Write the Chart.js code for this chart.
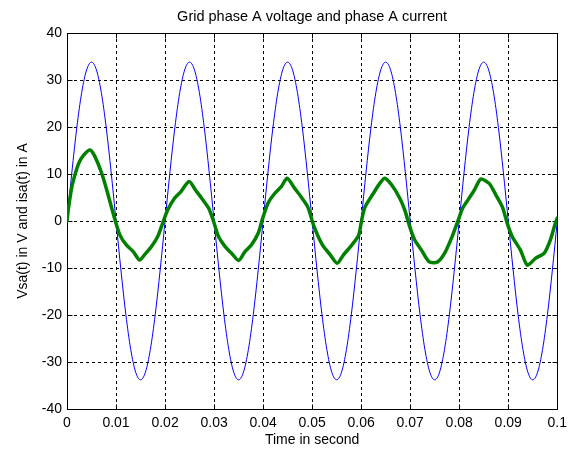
<!DOCTYPE html>
<html><head><meta charset="utf-8">
<script src="https://cdn.jsdelivr.net/npm/chart.js@4.4.1/dist/chart.umd.min.js"></script>
<style>html,body{margin:0;padding:0;background:#fff}</style>
</head><body>
<canvas id="c" width="573" height="450"></canvas>
<script>
const titleText = 'Grid phase A voltage and phase A current';
const xAxisLabel = 'Time in second';
const yAxisLabel = 'Vsa(t) in V and isa(t) in A';
const xTicks = [0, 0.01, 0.02, 0.03, 0.04, 0.05, 0.06, 0.07, 0.08, 0.09, 0.1];
const yTicks = [-40, -30, -20, -10, 0, 10, 20, 30, 40];

const voltageTime = [
  0, 0.001, 0.002, 0.003, 0.004, 0.005, 0.006, 0.007, 0.008, 0.009,
  0.010, 0.011, 0.012, 0.013, 0.014, 0.015, 0.016, 0.017, 0.018, 0.019,
  0.020, 0.021, 0.022, 0.023, 0.024, 0.025, 0.026, 0.027, 0.028, 0.029,
  0.030, 0.031, 0.032, 0.033, 0.034, 0.035, 0.036, 0.037, 0.038, 0.039,
  0.040, 0.041, 0.042, 0.043, 0.044, 0.045, 0.046, 0.047, 0.048, 0.049,
  0.050, 0.051, 0.052, 0.053, 0.054, 0.055, 0.056, 0.057, 0.058, 0.059,
  0.060, 0.061, 0.062, 0.063, 0.064, 0.065, 0.066, 0.067, 0.068, 0.069,
  0.070, 0.071, 0.072, 0.073, 0.074, 0.075, 0.076, 0.077, 0.078, 0.079,
  0.080, 0.081, 0.082, 0.083, 0.084, 0.085, 0.086, 0.087, 0.088, 0.089,
  0.090, 0.091, 0.092, 0.093, 0.094, 0.095, 0.096, 0.097, 0.098, 0.099,
  0.100
];
const voltageValue = [
  0, 10.44, 19.87, 27.34, 32.15, 33.8, 32.15, 27.34, 19.87, 10.44,
  0, -10.44, -19.87, -27.34, -32.15, -33.8, -32.15, -27.34, -19.87, -10.44,
  0, 10.44, 19.87, 27.34, 32.15, 33.8, 32.15, 27.34, 19.87, 10.44,
  0, -10.44, -19.87, -27.34, -32.15, -33.8, -32.15, -27.34, -19.87, -10.44,
  0, 10.44, 19.87, 27.34, 32.15, 33.8, 32.15, 27.34, 19.87, 10.44,
  0, -10.44, -19.87, -27.34, -32.15, -33.8, -32.15, -27.34, -19.87, -10.44,
  0, 10.44, 19.87, 27.34, 32.15, 33.8, 32.15, 27.34, 19.87, 10.44,
  0, -10.44, -19.87, -27.34, -32.15, -33.8, -32.15, -27.34, -19.87, -10.44,
  0, 10.44, 19.87, 27.34, 32.15, 33.8, 32.15, 27.34, 19.87, 10.44,
  0, -10.44, -19.87, -27.34, -32.15, -33.8, -32.15, -27.34, -19.87, -10.44,
  0
];

const currentTime = [
  0, 0.00034, 0.001, 0.0017, 0.0024, 0.0034, 0.0047, 0.0057, 0.0071, 0.0084,
  0.0098, 0.0108, 0.0121, 0.0135, 0.0148, 0.0158, 0.0172, 0.0185, 0.0195, 0.0205,
  0.0219, 0.0232, 0.0249, 0.0262, 0.0275, 0.0289, 0.0299, 0.0309, 0.0323, 0.0336,
  0.035, 0.0363, 0.0376, 0.039, 0.0398, 0.041, 0.0424, 0.0437, 0.0449, 0.0464,
  0.0477, 0.0491, 0.0504, 0.0521, 0.0537, 0.0551, 0.0564, 0.0581, 0.0595, 0.0601,
  0.0608, 0.0625, 0.0638, 0.0648, 0.0662, 0.0679, 0.0689, 0.0699, 0.0709, 0.0723,
  0.0739, 0.0756, 0.077, 0.0784, 0.0797, 0.0807, 0.0818, 0.0831, 0.0844, 0.0861,
  0.0875, 0.0888, 0.0898, 0.0908, 0.0925, 0.0939, 0.0956, 0.0973, 0.0986, 0.0996,
  0.1
];
const currentValue = [
  0, 3.0, 7.3, 10.1, 12.3, 14.0, 15.1, 13.7, 10.1, 5.5,
  0.2, -3.0, -5.1, -6.5, -8.3, -7.2, -5.5, -3.3, -0.5, 2.3,
  4.8, 6.2, 8.4, 6.6, 4.8, 2.7, -0.1, -3.3, -5.5, -6.9,
  -8.4, -6.5, -5.1, -2.6, 0.2, 3.8, 5.9, 7.3, 9.1, 7.0,
  5.2, 3.0, -1.2, -5.1, -7.2, -9.0, -7.2, -5.1, -3.0, 0.2,
  3.0, 5.9, 8.0, 9.1, 7.7, 4.8, 2.3, -1.2, -4.0, -6.2,
  -8.7, -8.7, -6.9, -3.7, -0.1, 2.7, 4.5, 6.6, 8.9, 8.0,
  5.5, 3.0, -0.5, -3.3, -6.2, -9.4, -7.9, -6.9, -4.0, -0.5,
  0.6
];

const FONT = '"Liberation Sans", Arial, Helvetica, sans-serif';

const boxPlugin = {
  id: 'matlabBox',
  beforeDatasetsDraw(chart) {
    const {ctx, chartArea: a, scales: {x, y}} = chart;
    const L = Math.round(a.left) + 0.5, R = Math.round(a.right) + 0.5;
    const T = Math.round(a.top) + 0.5, B = Math.round(a.bottom) + 0.5;
    ctx.save();
    ctx.strokeStyle = '#000';
    ctx.lineWidth = 1;
    ctx.beginPath();
    xTicks.forEach(v => {
      const px = Math.round(x.getPixelForValue(v)) + 0.5;
      ctx.moveTo(px, B); ctx.lineTo(px, B - 5);
      ctx.moveTo(px, T); ctx.lineTo(px, T + 5);
    });
    yTicks.forEach(v => {
      const py = Math.round(y.getPixelForValue(v)) + 0.5;
      ctx.moveTo(L, py); ctx.lineTo(L + 5, py);
      ctx.moveTo(R, py); ctx.lineTo(R - 5, py);
    });
    ctx.stroke();
    ctx.beginPath();
    ctx.rect(L, T, R - L, B - T);
    ctx.stroke();
    ctx.restore();
  }
};

new Chart(document.getElementById('c'), {
  type: 'line',
  data: {
    datasets: [
      {
        label: 'isa(t)',
        data: currentTime.map((t, i) => ({x: t, y: currentValue[i]})),
        borderColor: '#008000',
        borderWidth: 3.5,
        pointRadius: 0,
        tension: 0.25,
        borderJoinStyle: 'round',
        borderCapStyle: 'round',
        fill: false
      },
      {
        label: 'Vsa(t)',
        data: voltageTime.map((t, i) => ({x: t, y: voltageValue[i]})),
        borderColor: '#0000ff',
        borderWidth: 1,
        pointRadius: 0,
        cubicInterpolationMode: 'monotone',
        fill: false
      }
    ]
  },
  options: {
    responsive: false,
    animation: false,
    devicePixelRatio: 1,
    layout: { padding: { left: 0, right: 11, top: 0, bottom: 0 } },
    plugins: {
      legend: { display: false },
      tooltip: { enabled: false },
      title: {
        display: true,
        fullSize: false,
        text: titleText,
        color: '#000',
        font: { family: FONT, size: 14.5, weight: 'normal' },
        padding: { top: 8, bottom: 7.6 }
      }
    },
    scales: {
      x: {
        type: 'linear',
        position: 'bottom',
        min: 0, max: 0.1,
        afterBuildTicks: s => { s.ticks = xTicks.map(v => ({value: v})); },
        afterFit: s => { s.height = 41; },
        ticks: {
          color: '#000',
          font: { family: FONT, size: 14 },
          padding: 6,
          maxRotation: 0,
          autoSkip: false,
          callback: v => String(v)
        },
        grid: { color: '#000', lineWidth: 1, drawTicks: false },
        border: { display: true, color: '#000', width: 1, dash: [3, 3] },
        title: {
          display: true, text: xAxisLabel, color: '#000',
          font: { family: FONT, size: 14 }, padding: { top: 0, bottom: 1 }
        }
      },
      y: {
        type: 'linear',
        min: -40, max: 40,
        afterBuildTicks: s => { s.ticks = yTicks.map(v => ({value: v})); },
        afterFit: s => { s.width = 67; },
        ticks: {
          color: '#000',
          font: { family: FONT, size: 14 },
          padding: 5,
          callback: v => String(v)
        },
        grid: { color: '#000', lineWidth: 1, drawTicks: false },
        border: { display: true, color: '#000', width: 1, dash: [3, 3] },
        title: {
          display: true, text: yAxisLabel, color: '#000',
          font: { family: FONT, size: 14 }, padding: { top: 14.5, bottom: 0 }
        }
      }
    }
  },
  plugins: [boxPlugin]
});
</script>
</body></html>
